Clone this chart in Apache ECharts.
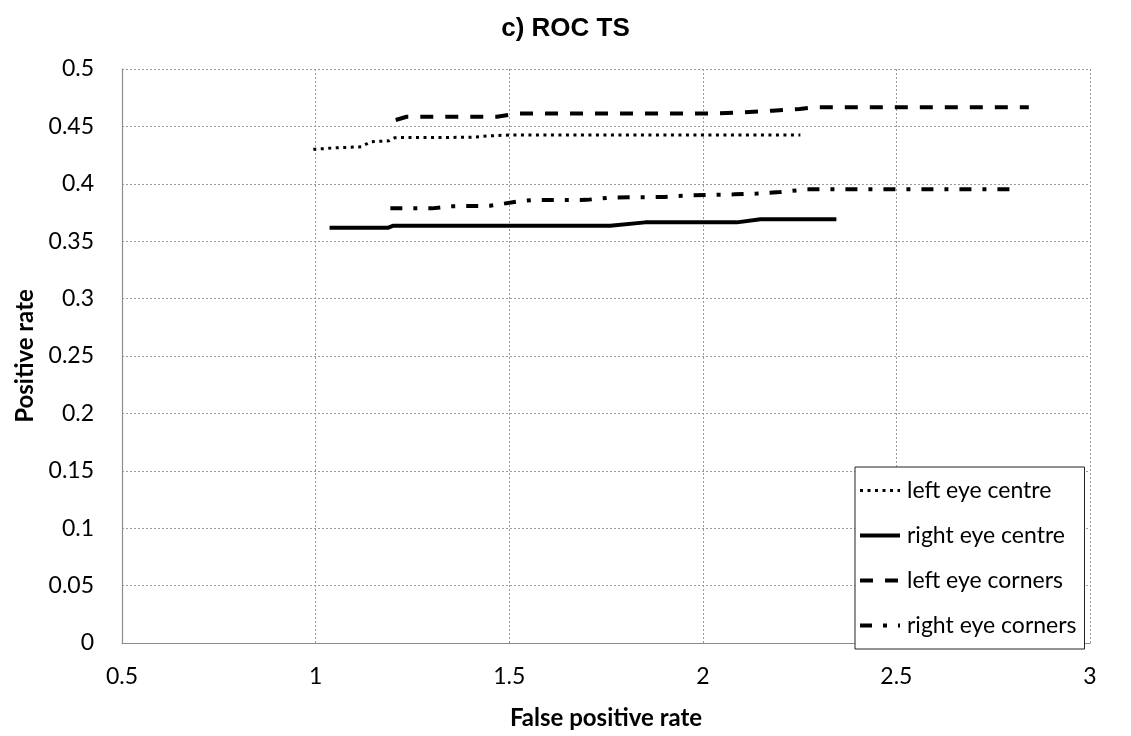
<!DOCTYPE html>
<html>
<head>
<meta charset="utf-8">
<title>c) ROC TS</title>
<script src="https://cdn.jsdelivr.net/npm/echarts@6/dist/echarts.min.js"></script>
<style>
  html, body { margin: 0; padding: 0; background: #fff; }
  #chart { width: 1131px; height: 736px; }
</style>
</head>
<body>
<div id="chart"></div>
<script>
// ROC curves (false positive rate vs positive rate) for the four detectors
const seriesNames = ['left eye centre', 'right eye centre', 'left eye corners', 'right eye corners'];

const leftEyeCentre = [
  [0.994, 0.4300], [1.05, 0.4313], [1.12, 0.4323], [1.14, 0.4365], [1.19, 0.4375],
  [1.205, 0.4402], [1.40, 0.4405], [1.45, 0.4418], [1.50, 0.4425], [2.252, 0.4425]
];
const rightEyeCentre = [
  [1.036, 0.3618], [1.188, 0.3618], [1.201, 0.3635], [1.761, 0.3635], [1.851, 0.3664],
  [2.088, 0.3664], [2.149, 0.3691], [2.345, 0.3691]
];
const leftEyeCorners = [
  [1.207, 0.4556], [1.235, 0.4584], [1.468, 0.4584], [1.52, 0.4612], [2.02, 0.4612],
  [2.10, 0.4622], [2.18, 0.4637], [2.25, 0.4652], [2.29, 0.4666], [2.842, 0.4666]
];
const rightEyeCorners = [
  [1.193, 0.3786], [1.30, 0.3786], [1.35, 0.3805], [1.45, 0.3808], [1.52, 0.3845],
  [1.56, 0.3859], [1.70, 0.3860], [1.76, 0.3880], [1.90, 0.3886], [1.97, 0.3900],
  [2.08, 0.3908], [2.14, 0.3915], [2.20, 0.3928], [2.27, 0.3952], [2.803, 0.3952]
];

const xTicks = { min: 0.5, max: 3, interval: 0.5 };
const yTicks = { min: 0, max: 0.5, interval: 0.05 };

const labelFont = 'Lato';
const gridLine = { show: true, lineStyle: { color: '#9a9a9a', type: [2, 2], width: 1 } };
const axisLine = { show: true, lineStyle: { color: '#8c8c8c', width: 1.2 } };

function lineSeries(name, data, width, dash) {
  return {
    name: name,
    type: 'line',
    data: data,
    symbol: 'none',
    smooth: false,
    silent: true,
    lineStyle: { color: '#000', width: width, type: dash, cap: 'butt' },
    itemStyle: { color: '#000' }
  };
}

const chart = echarts.init(document.getElementById('chart'), null, { renderer: 'canvas' });
chart.setOption({
  animation: false,
  backgroundColor: '#fff',
  title: {
    text: 'c) ROC TS',
    left: 'center',
    top: 11,
    textStyle: { fontFamily: 'Liberation Sans', fontWeight: 'bold', fontSize: 26, color: '#000' }
  },
  grid: { left: 122, right: 41, top: 69, bottom: 93, containLabel: false },
  xAxis: {
    type: 'value',
    min: xTicks.min, max: xTicks.max, interval: xTicks.interval,
    name: 'False positive rate',
    nameLocation: 'middle',
    nameGap: 63,
    nameTextStyle: { fontFamily: labelFont, fontWeight: 'bold', fontSize: 24, color: '#000' },
    axisLine: axisLine,
    axisTick: { show: false },
    axisLabel: { margin: 22, fontFamily: labelFont, fontSize: 23, color: '#000' },
    splitLine: gridLine
  },
  yAxis: {
    type: 'value',
    min: yTicks.min, max: yTicks.max, interval: yTicks.interval,
    name: 'Positive rate',
    nameLocation: 'middle',
    nameGap: 83,
    nameRotate: 90,
    nameTextStyle: { fontFamily: labelFont, fontWeight: 'bold', fontSize: 24, color: '#000' },
    axisLine: axisLine,
    axisTick: { show: false },
    axisLabel: { margin: 28, fontFamily: labelFont, fontSize: 23, color: '#000' },
    splitLine: gridLine
  },
  legend: {
    orient: 'vertical',
    left: 855,
    top: 467,
    padding: [12, 8, 12, 3],
    itemGap: 22,
    itemWidth: 40,
    itemHeight: 20,
    itemStyle: { opacity: 0 },
    lineStyle: { width: 'inherit', type: 'inherit', cap: 'butt' },
    backgroundColor: '#fff',
    borderColor: '#222',
    borderWidth: 1,
    borderRadius: 0,
    textStyle: { fontFamily: labelFont, fontSize: 23, color: '#000', padding: [0, 0, 0, 2] },
    data: seriesNames
  },
  series: [
    lineSeries(seriesNames[0], leftEyeCentre, 3, [3, 4.5]),
    lineSeries(seriesNames[1], rightEyeCentre, 4, 'solid'),
    lineSeries(seriesNames[2], leftEyeCorners, 4, [13, 12]),
    lineSeries(seriesNames[3], rightEyeCorners, 4, [12, 11, 4, 11])
  ]
});
</script>
</body>
</html>
